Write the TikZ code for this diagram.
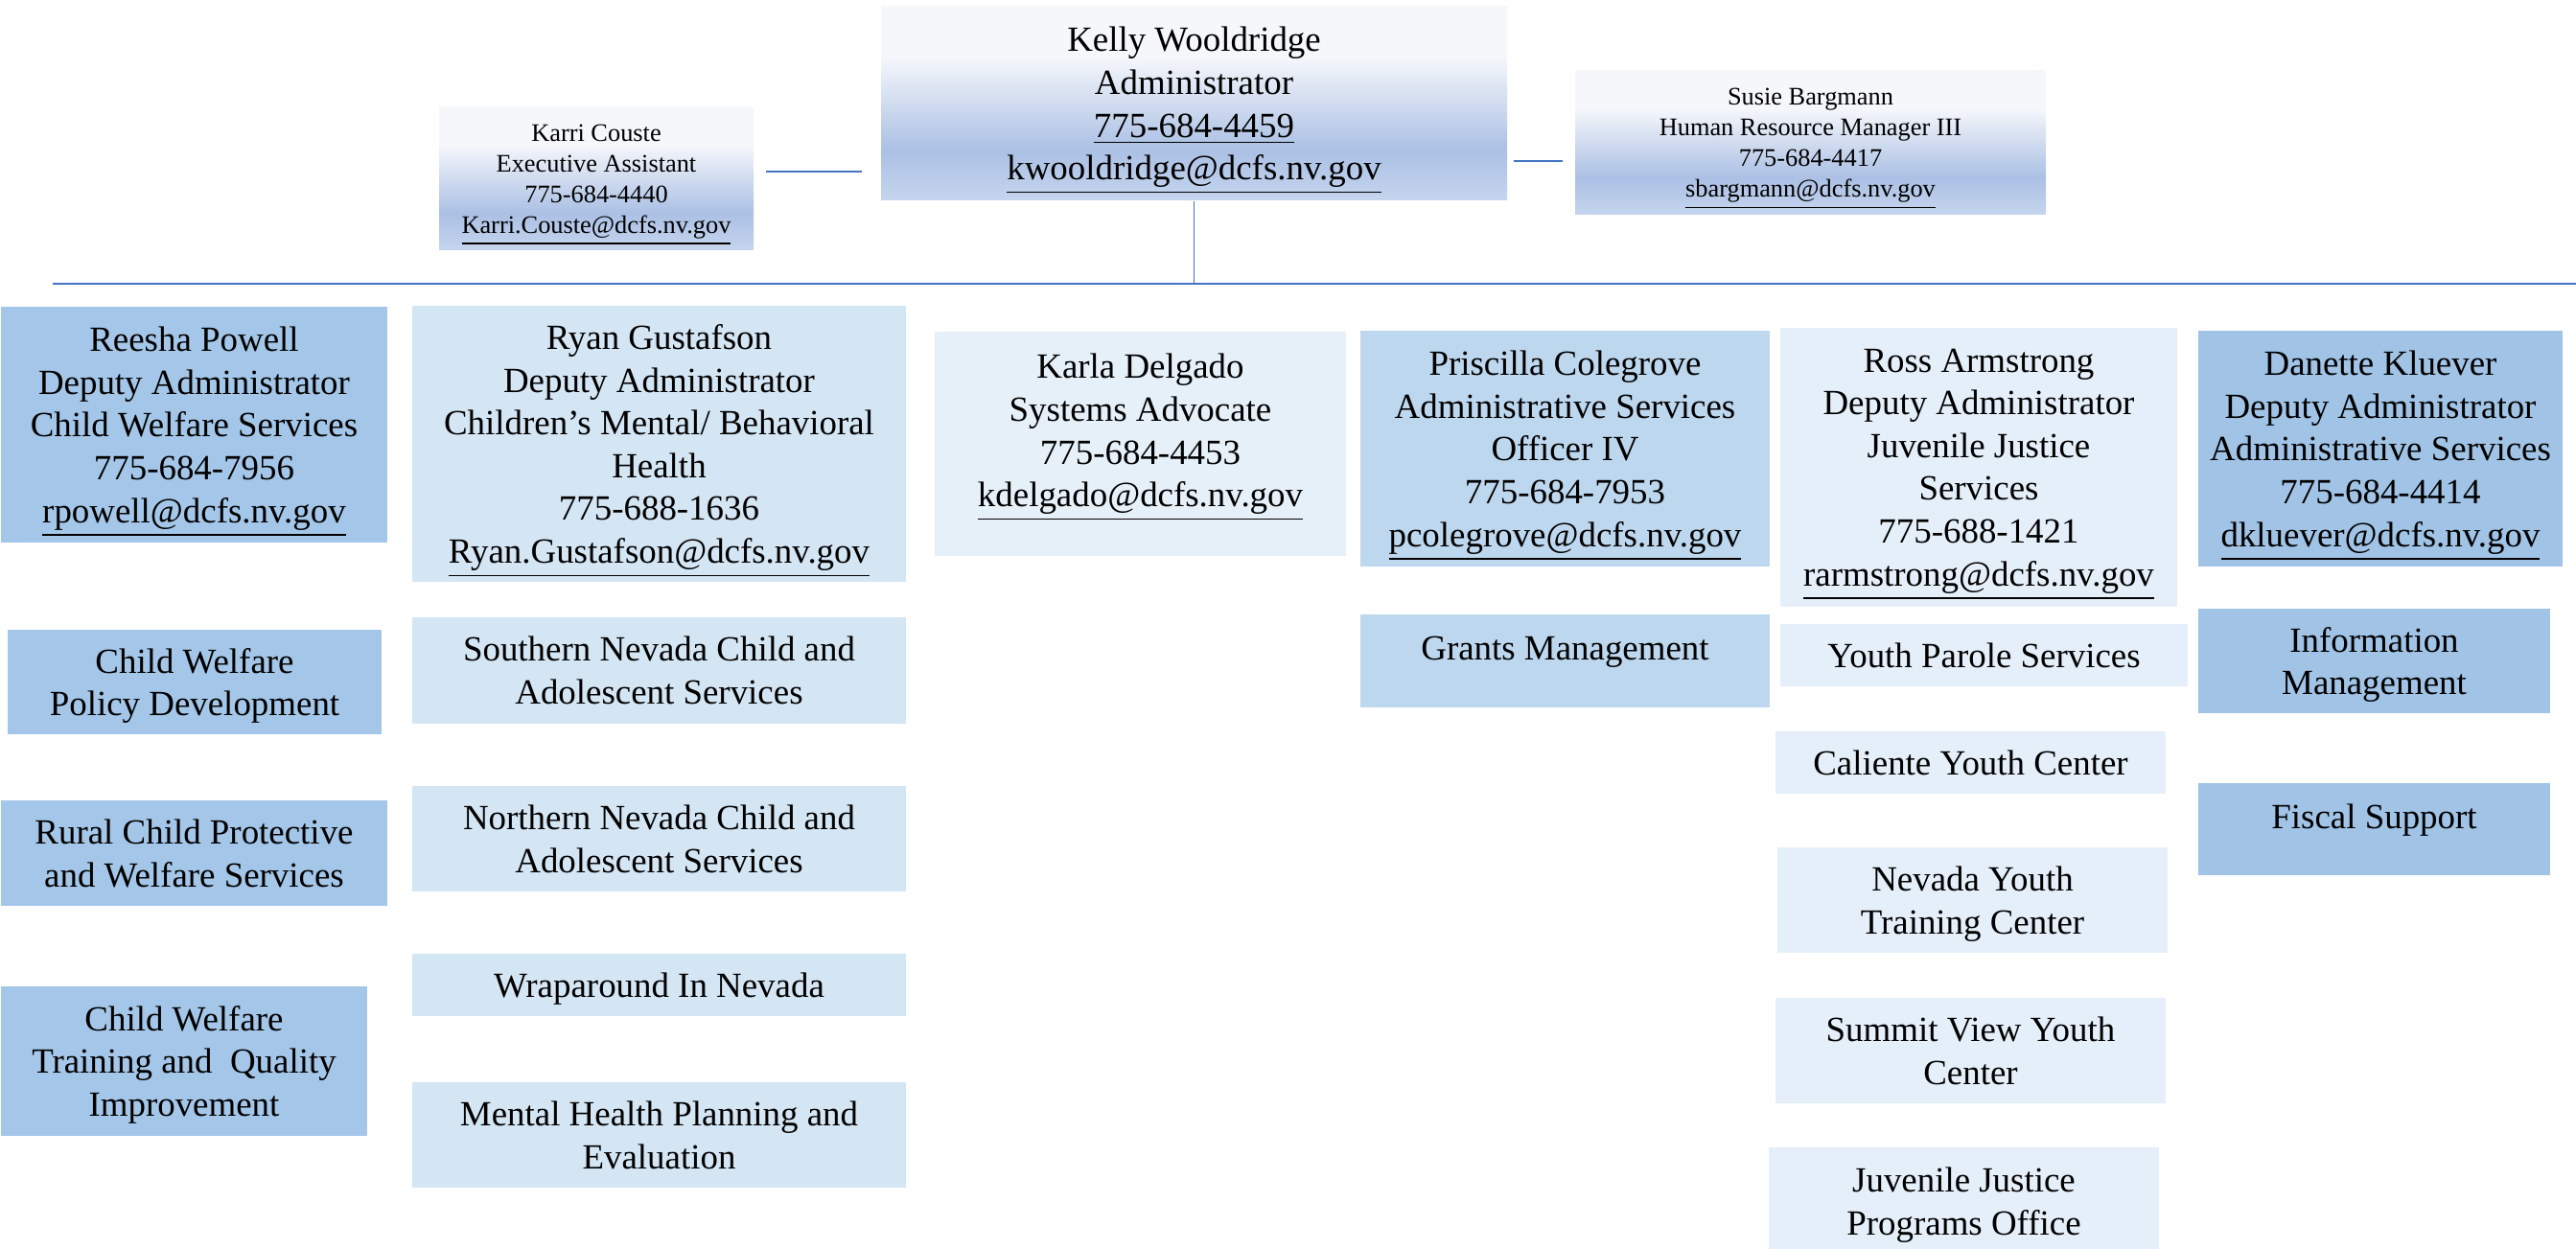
\documentclass[tikz,border=0pt]{standalone}
\usepackage{fontspec}
\setmainfont{Liberation Serif}

\definecolor{linkblue}{HTML}{4472C4}
\definecolor{cwsfill}{HTML}{A4C6E8}
\definecolor{cmhfill}{HTML}{D4E5F4}
\definecolor{advfill}{HTML}{E6F0F9}
\definecolor{asofill}{HTML}{BDD7EE}
\definecolor{jjsfill}{HTML}{E5EFF9}
\definecolor{asvfill}{HTML}{A0C3E6}
\definecolor{headtop}{HTML}{F5F7FB}
\definecolor{headdark}{HTML}{ABC0E4}
\definecolor{headlow}{HTML}{C5D5EE}

\pgfdeclareverticalshading{headshade}{100bp}{color(0bp)=(headlow); color(25bp)=(headlow); color(38bp)=(headdark); color(62bp)=(headtop); color(100bp)=(headtop)}

\tikzset{
  unitbox/.style={fill=#1, align=center, inner sep=1pt, text depth=0pt, font=\fontsize{10.5}{12.7}\selectfont},
  mailbox/.style={text depth=-0.05cm},
  headbox/.style={shade, shading=headshade, align=center, inner sep=1pt, text depth=-0.03cm},
  bigtext/.style={font=\fontsize{10.5}{12.7}\selectfont},
  smalltext/.style={font=\fontsize{7.5}{9.1}\selectfont},
  conn/.style={draw=linkblue, line width=0.6pt},
}

\begin{document}
\begin{tikzpicture}
        \useasboundingbox (0,0) rectangle (26.87,-13.03);
        % Administrator and staff
        \node[headbox, bigtext, minimum width=6.53cm, minimum height=2.02cm] (kelly) at (12.455,-1.08)
          {Kelly Wooldridge\\Administrator\\\underline{775-684-4459}\\\underline{kwooldridge@dcfs.nv.gov}};
        \node[headbox, smalltext, minimum width=3.28cm, minimum height=1.49cm] (karri) at (6.22,-1.865)
          {Karri Couste\\Executive Assistant\\775-684-4440\\\underline{Karri.Couste@dcfs.nv.gov}};
        \node[headbox, smalltext, minimum width=4.91cm, minimum height=1.50cm] (susie) at (18.885,-1.49)
          {Susie Bargmann\\Human Resource Manager III\\775-684-4417\\\underline{sbargmann@dcfs.nv.gov}};
        % Bus line
        \coordinate (busL) at (0.55,-2.96);
        \coordinate (busR) at (26.87,-2.96);
        \draw[conn] (busL) -- (busR);
        \draw[conn, line width=0.4pt] (kelly.south) -- (kelly.south |- busL);
        \draw[conn, shorten <=0.12cm, shorten >=0.19cm] ([yshift=0.075cm]karri.east) -- ([yshift=0.075cm]karri.east -| kelly.west);
        \draw[conn, shorten <=0.06cm, shorten >=0.12cm] ([yshift=-0.19cm]susie.west -| kelly.east) -- ([yshift=-0.19cm]susie.west);
        % Deputies
        \node[unitbox=cwsfill, mailbox, minimum width=4.03cm, minimum height=2.46cm] (reesha) at (2.025,-4.43)
          {Reesha Powell\\Deputy Administrator\\Child Welfare Services\\775-684-7956\\\underline{rpowell@dcfs.nv.gov}};
        \node[unitbox=cmhfill, mailbox, minimum width=5.15cm, minimum height=2.88cm] (ryan) at (6.875,-4.63)
          {Ryan Gustafson\\Deputy Administrator\\Children’s Mental/ Behavioral\\Health\\775-688-1636\\\underline{Ryan.Gustafson@dcfs.nv.gov}};
        \node[unitbox=advfill, minimum width=4.29cm, minimum height=2.34cm, text depth=0.28cm] (karla) at (11.895,-4.63)
          {Karla Delgado\\Systems Advocate\\775-684-4453\\\underline{kdelgado@dcfs.nv.gov}};
        \node[unitbox=asofill, mailbox, minimum width=4.27cm, minimum height=2.46cm] (priscilla) at (16.325,-4.68)
          {Priscilla Colegrove\\Administrative Services\\Officer IV\\775-684-7953\\\underline{pcolegrove@dcfs.nv.gov}};
        \node[unitbox=jjsfill, mailbox, minimum width=4.14cm, minimum height=2.91cm] (ross) at (20.64,-4.875)
          {Ross Armstrong\\Deputy Administrator\\Juvenile Justice\\Services\\775-688-1421\\\underline{rarmstrong@dcfs.nv.gov}};
        \node[unitbox=asvfill, mailbox, minimum width=3.80cm, minimum height=2.46cm] (danette) at (24.83,-4.68)
          {Danette Kluever\\Deputy Administrator\\Administrative Services\\775-684-4414\\\underline{dkluever@dcfs.nv.gov}};
        % Child welfare units
        \node[unitbox=cwsfill, minimum width=3.90cm, minimum height=1.09cm] (cwpolicy) at (2.03,-7.115)
          {Child Welfare\\Policy Development};
        \node[unitbox=cwsfill, minimum width=4.03cm, minimum height=1.10cm] (rural) at (2.025,-8.90)
          {Rural Child Protective\\and Welfare Services};
        \node[unitbox=cwsfill, minimum width=3.82cm, minimum height=1.56cm] (cwtrain) at (1.92,-11.07)
          {Child Welfare\\Training and\ \ Quality\\Improvement};
        % Mental health units
        \node[unitbox=cmhfill, minimum width=5.15cm, minimum height=1.11cm] (south) at (6.875,-6.995)
          {Southern Nevada Child and\\Adolescent Services};
        \node[unitbox=cmhfill, minimum width=5.15cm, minimum height=1.10cm] (north) at (6.875,-8.75)
          {Northern Nevada Child and\\Adolescent Services};
        \node[unitbox=cmhfill, minimum width=5.15cm, minimum height=0.65cm] (wrap) at (6.875,-10.275)
          {Wraparound In Nevada};
        \node[unitbox=cmhfill, minimum width=5.15cm, minimum height=1.10cm] (mental) at (6.875,-11.84)
          {Mental Health Planning and\\Evaluation};
        % Administrative services officer unit
        \node[unitbox=asofill, minimum width=4.27cm, minimum height=0.97cm, text depth=0.26cm] (grants) at (16.325,-6.895)
          {Grants Management};
        % Juvenile justice units
        \node[unitbox=jjsfill, minimum width=4.25cm, minimum height=0.65cm] (parole) at (20.695,-6.835)
          {Youth Parole Services};
        \node[unitbox=jjsfill, minimum width=4.07cm, minimum height=0.65cm] (caliente) at (20.555,-7.955)
          {Caliente Youth Center};
        \node[unitbox=jjsfill, minimum width=4.07cm, minimum height=1.10cm] (nytc) at (20.575,-9.39)
          {Nevada Youth\\Training Center};
        \node[unitbox=jjsfill, minimum width=4.07cm, minimum height=1.10cm] (summit) at (20.555,-10.96)
          {Summit View Youth\\Center};
        \node[unitbox=jjsfill, minimum width=4.07cm, minimum height=1.13cm] (jjpo) at (20.485,-12.535)
          {Juvenile Justice\\Programs Office};
        % Administrative services units
        \node[unitbox=asvfill, minimum width=3.67cm, minimum height=1.09cm] (infomgmt) at (24.765,-6.895)
          {Information\\Management};
        \node[unitbox=asvfill, minimum width=3.67cm, minimum height=0.96cm, text depth=0.26cm] (fiscal) at (24.765,-8.65)
          {Fiscal Support};
      \end{tikzpicture}
\end{document}
